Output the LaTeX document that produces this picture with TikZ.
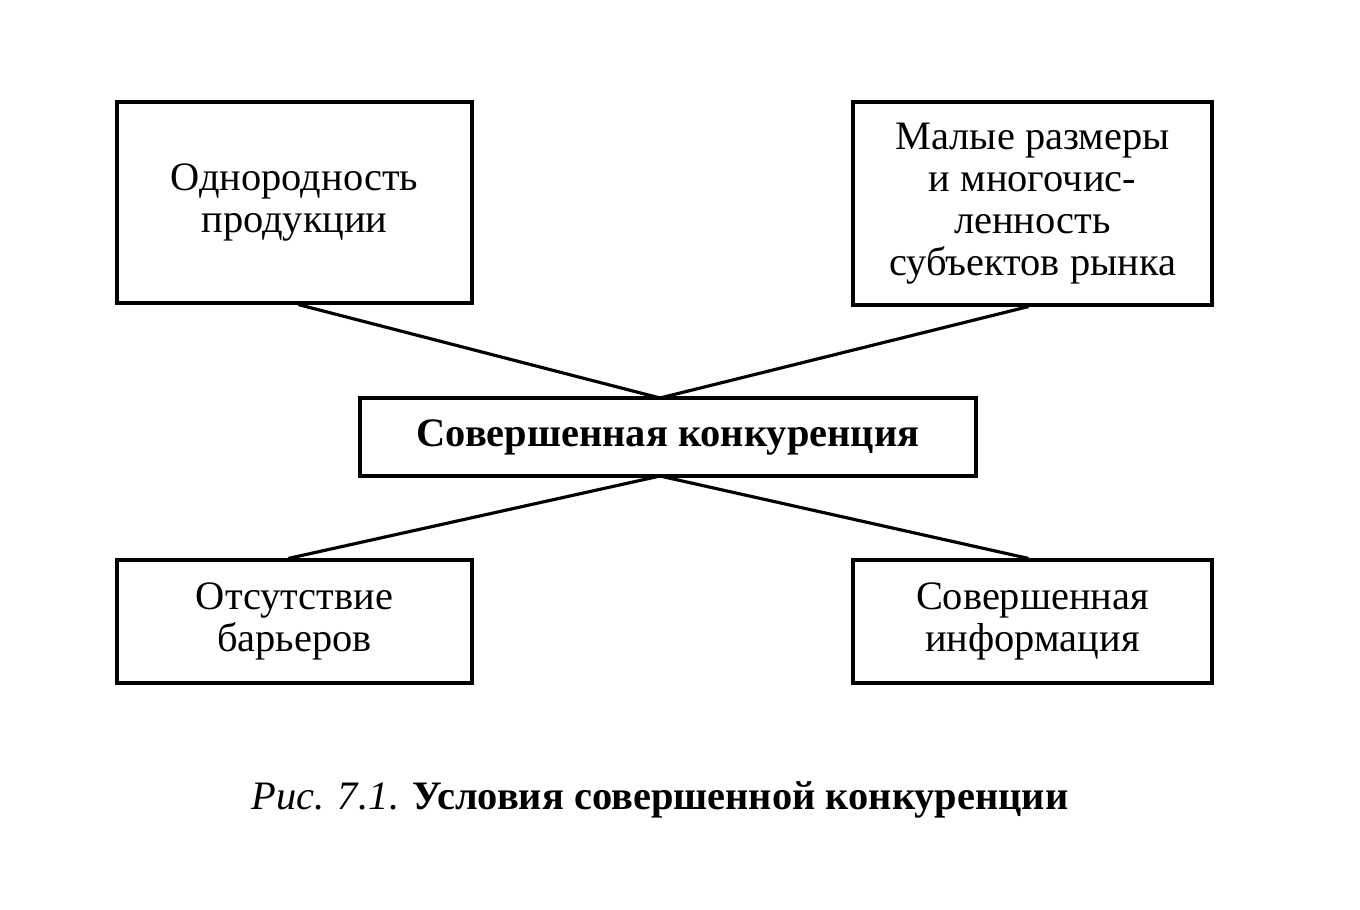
\documentclass[tikz,border=0pt]{standalone}
\usepackage{fontspec}
\setmainfont{Liberation Serif}
\begin{document}
\begin{tikzpicture}[x=0.02cm,y=-0.02cm,
  box/.style={draw,line width=1.8pt,inner sep=0pt,align=center,font=\fontsize{23}{23.8}\selectfont},
  link/.style={line width=1.8pt}]
\useasboundingbox (0,0) rectangle (1360,910);
\node[box,minimum width=355*0.02cm,minimum height=201*0.02cm] (tl) at (294.5,202.5) {Однородность\\продукции};
\node[box,minimum width=359*0.02cm,minimum height=203*0.02cm] (tr) at (1032.5,203.5) {Малые размеры\\и многочис-\\ленность\\субъектов рынка};
\node[box,minimum width=616*0.02cm,minimum height=78*0.02cm,font=\fontsize{23}{24}\selectfont\bfseries] (c) at (668,437) {Совершенная конкуренция};
\node[box,minimum width=355*0.02cm,minimum height=123*0.02cm] (bl) at (294.5,621.5) {Отсутствие\\барьеров};
\node[box,minimum width=359*0.02cm,minimum height=123*0.02cm] (br) at (1032.5,621.5) {Совершенная\\информация};
\coordinate (ct) at (660,398);
\coordinate (cb) at (660,476);
\draw[link] (tl.south west) ++(183,0) -- (ct);
\draw[link] (tr.south west) ++(177,0) -- (ct);
\draw[link] (bl.north west) ++(173,0) -- (cb);
\draw[link] (br.north west) ++(177,0) -- (cb);
\node[font=\fontsize{23}{24}\selectfont] (cap) at (660,800) {\textit{Рис. 7.1}. \textbf{Условия совершенной конкуренции}};
\end{tikzpicture}
\end{document}
